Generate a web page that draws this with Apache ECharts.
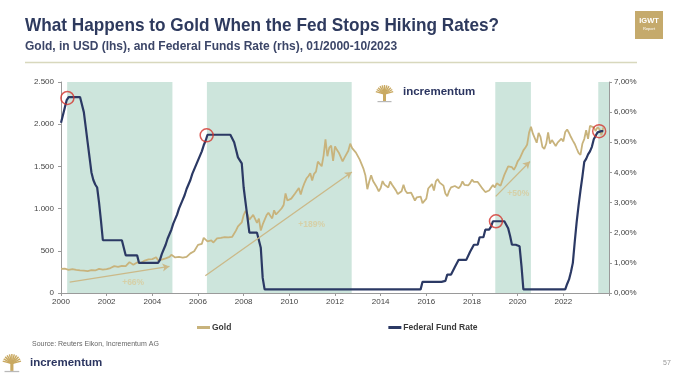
<!DOCTYPE html>
<html><head><meta charset="utf-8">
<script src="https://cdn.jsdelivr.net/npm/echarts@6/dist/echarts.min.js"></script>
<style>html,body{margin:0;padding:0;background:#fff}#c{width:679px;height:382px}</style>
</head><body><div id="c"></div>
<script>
// ---------- DATA ----------
const startYear = 2000;           // monthly data from 01/2000
const xTickYears = [2000,2002,2004,2006,2008,2010,2012,2014,2016,2018,2020,2022];
const goldTicks = [0,500,1000,1500,2000,2500];
const rateTicks = [0,1,2,3,4,5,6,7];
const seriesNames = ['Gold','Federal Fund Rate'];

const goldValues = [
 285,295,288,280,275,286,282,276,273,270,268,272,
 265,262,260,262,272,270,267,272,285,282,276,277,
 282,296,296,303,318,322,310,312,322,316,318,342,
 366,350,334,336,362,348,354,374,384,386,398,416,
 402,396,424,388,394,396,392,410,416,428,452,436,
 422,434,428,436,418,436,428,434,470,462,494,516,
 570,556,582,654,648,612,632,624,598,604,646,632,
 652,666,662,682,658,650,666,672,742,790,782,836,
 924,972,934,868,886,926,914,830,880,740,812,866,
 920,952,916,884,980,930,954,952,1004,1042,1180,1096,
 1082,1118,1114,1180,1212,1244,1168,1246,1306,1356,1384,1420,
 1332,1412,1438,1556,1536,1502,1628,1820,1620,1722,1746,1566,
 1738,1696,1662,1664,1560,1604,1614,1686,1770,1716,1712,1664,
 1660,1580,1598,1470,1392,1230,1322,1396,1326,1322,1252,1204,
 1244,1326,1284,1288,1250,1322,1282,1286,1216,1172,1182,1206,
 1282,1212,1184,1182,1190,1172,1096,1134,1114,1142,1064,1060,
 1118,1238,1232,1290,1214,1322,1350,1308,1316,1272,1178,1146,
 1210,1252,1248,1268,1268,1242,1270,1322,1282,1270,1274,1302,
 1342,1318,1324,1316,1298,1252,1224,1196,1190,1214,1222,1280,
 1250,1300,1290,1270,1290,1400,1420,1500,1500,1490,1460,1500,
 1560,1590,1580,1690,1720,1760,1900,1970,1888,1880,1780,1896,
 1850,1732,1708,1768,1904,1770,1812,1814,1742,1782,1776,1828,
 1796,1908,1938,1896,1848,1806,1766,1712,1660,1636,1768,1824,
 1928,1826,1980,1990,1962,1920,1966,1940,1870,1960
];

const fedValues = [
 5.65,5.9,6.15,6.4,6.5,6.5,6.5,6.5,6.5,6.5,6.5,6.5,
 6.0,5.5,5.0,4.5,4.0,3.75,3.6,3.5,3.0,2.4,1.75,1.75,
 1.75,1.75,1.75,1.75,1.75,1.75,1.75,1.75,1.75,1.75,1.25,1.25,
 1.25,1.25,1.25,1.25,1.25,1.0,1.0,1.0,1.0,1.0,1.0,1.0,
 1.0,1.0,1.0,1.0,1.1,1.3,1.45,1.6,1.8,1.95,2.1,2.3,
 2.45,2.6,2.8,2.95,3.1,3.25,3.45,3.6,3.75,3.95,4.1,4.25,
 4.4,4.55,4.7,4.9,5.05,5.25,5.25,5.25,5.25,5.25,5.25,5.25,
 5.25,5.25,5.25,5.25,5.25,5.25,5.25,5.0,4.75,4.5,4.45,4.3,
 3.5,3.0,2.5,2.0,2.0,2.0,2.0,2.0,2.0,1.5,0.5,0.12,
 0.12,0.12,0.12,0.12,0.12,0.12,0.12,0.12,0.12,0.12,0.12,0.12,
 0.12,0.12,0.12,0.12,0.12,0.12,0.12,0.12,0.12,0.12,0.12,0.12,
 0.12,0.12,0.12,0.12,0.12,0.12,0.12,0.12,0.12,0.12,0.12,0.12,
 0.12,0.12,0.12,0.12,0.12,0.12,0.12,0.12,0.12,0.12,0.12,0.12,
 0.12,0.12,0.12,0.12,0.12,0.12,0.12,0.12,0.12,0.12,0.12,0.12,
 0.12,0.12,0.12,0.12,0.12,0.12,0.12,0.12,0.12,0.12,0.12,0.12,
 0.12,0.12,0.12,0.12,0.12,0.12,0.12,0.12,0.12,0.12,0.37,0.37,
 0.37,0.37,0.37,0.37,0.37,0.37,0.37,0.37,0.37,0.37,0.4,0.61,
 0.61,0.61,0.61,0.86,0.86,1.1,1.1,1.1,1.1,1.1,1.1,1.37,
 1.37,1.6,1.6,1.6,1.85,1.85,1.85,2.1,2.1,2.1,2.2,2.38,
 2.38,2.38,2.38,2.38,2.38,2.38,2.38,2.15,1.9,1.6,1.6,1.6,
 1.6,1.55,0.9,0.12,0.12,0.12,0.12,0.12,0.12,0.12,0.12,0.12,
 0.12,0.12,0.12,0.12,0.12,0.12,0.12,0.12,0.12,0.12,0.12,0.12,
 0.12,0.12,0.3,0.45,0.7,1.0,1.7,2.35,2.9,3.4,3.85,4.35,
 4.45,4.6,4.7,4.85,5.1,5.15,5.33,5.37,5.37,5.37
];

// shaded periods (after last hike)
const shadeStarts = [2000.27, 2006.39, 2019.02, 2023.53];
const shadeEnds   = [2004.88, 2012.73, 2020.58, 2024.0];
// last-hike markers (year, rate %)
const hikeStopYears = [2000.28, 2006.38, 2019.05, 2023.57];
const hikeStopRates = [6.47, 5.23, 2.38, 5.37];
// gold trend arrows (year, gold) start -> end
const arrowStartYears = [2000.38, 2006.32, 2019.04];
const arrowStartGold  = [130, 205, 1145];
const arrowEndYears   = [2004.75, 2012.74, 2020.54];
const arrowEndGold    = [315, 1434, 1559];
const arrowLabels     = ['+66%', '+189%', '+50%'];
const arrowLabelYears = [2003.16, 2010.98, 2020.03];
const arrowLabelGold  = [126, 809, 1173];

// ---------- CHART ----------
const GOLD = '#c8b37c', NAVY = '#2b3964', SHADE = '#cde5dc';
const monthX = i => startYear + i / 12;
const goldData = goldValues.map((v, i) => [monthX(i), v]);
const fedData = fedValues.map((v, i) => [monthX(i), v]);

const fmtGold = v => v >= 1000 ? Math.floor(v / 1000) + '.' + String(v % 1000).padStart(3, '0') : String(v);
const fmtRate = v => v.toFixed(2).replace('.', ',') + '%';

function treeIcon(x, y, s) {
  const ch = [];
  const cx = 7.5 * s, cy = 11 * s;
  const angs = [195, 210, 225, 240, 255, 270, 285, 300, 315, 330, 345];
  angs.forEach(a => {
    const r = 9 * s, rad = a * Math.PI / 180;
    ch.push({type: 'line', shape: {x1: cx, y1: cy, x2: cx + r * Math.cos(rad), y2: cy + r * Math.sin(rad)},
      style: {stroke: '#c9a961', lineWidth: 1.4 * s}});
  });
  ch.push({type: 'rect', shape: {x: cx - 1.5 * s, y: cy - 1 * s, width: 3 * s, height: 8 * s}, style: {fill: '#c9a961'}});
  ch.push({type: 'rect', shape: {x: 0.5 * s, y: 18 * s, width: 14 * s, height: 1.2 * s}, style: {fill: '#b9b9b9'}});
  return {type: 'group', x: x, y: y, children: ch};
}

const chart = echarts.init(document.getElementById('c'), null, {renderer: 'canvas'});
const option = {
  backgroundColor: '#fff',
  animation: false,
  textStyle: {fontFamily: 'Liberation Sans, Arial, sans-serif'},
  grid: {left: 61, right: 70, top: 82, height: 211},
  legend: {
    left: 192, top: 318, itemWidth: 13, itemHeight: 3, itemGap: 157, icon: 'rect',
    textStyle: {fontSize: 8.5, fontWeight: 'bold', color: '#3a3a3a', padding: [0, 0, 0, -3]},
    data: seriesNames
  },
  xAxis: {
    type: 'value', min: 2000, max: 2024, interval: 2,
    axisLine: {show: true, lineStyle: {color: '#9a9a9a'}},
    axisTick: {show: true, length: 3, lineStyle: {color: '#9a9a9a'}},
    splitLine: {show: false},
    axisLabel: {fontSize: 8, color: '#444', margin: 5,
      formatter: v => xTickYears.indexOf(v) >= 0 ? String(v) : ''}
  },
  yAxis: [
    {type: 'value', min: goldTicks[0], max: goldTicks[goldTicks.length - 1], interval: 500,
     axisLine: {show: true, lineStyle: {color: '#9a9a9a'}},
     axisTick: {show: true, length: 3, lineStyle: {color: '#9a9a9a'}},
     splitLine: {show: false},
     axisLabel: {fontSize: 8, color: '#444', margin: 7, formatter: fmtGold}},
    {type: 'value', min: rateTicks[0], max: rateTicks[rateTicks.length - 1], interval: 1, position: 'right',
     axisLine: {show: true, lineStyle: {color: '#9a9a9a'}},
     axisTick: {show: true, length: 3, lineStyle: {color: '#9a9a9a'}},
     splitLine: {show: false},
     axisLabel: {fontSize: 8, color: '#444', margin: 5, formatter: fmtRate}}
  ],
  series: [
    {name: 'shade', type: 'line', data: [[2000, null]], z: 1, silent: true, symbol: 'none',
     markArea: {silent: true, itemStyle: {color: SHADE, opacity: 1},
       data: shadeStarts.map((s, i) => [{xAxis: s}, {xAxis: shadeEnds[i]}])}},
    {name: seriesNames[0], type: 'line', data: goldData, yAxisIndex: 0, z: 3, symbol: 'none',
     lineStyle: {color: GOLD, width: 1.8}, itemStyle: {color: GOLD}},
    {name: 'arrows', type: 'line', data: [[2000, null]], z: 3, symbol: 'none', yAxisIndex: 0, silent: true,
     markLine: {silent: true, symbol: ['none', 'arrow'], symbolSize: [6, 7],
       lineStyle: {color: '#cbb988', width: 1.3, type: 'solid'}, label: {show: false},
       data: arrowStartYears.map((s, i) => [{coord: [s, arrowStartGold[i]]}, {coord: [arrowEndYears[i], arrowEndGold[i]]}])}},
    {name: 'arrowLabels', type: 'scatter', yAxisIndex: 0, z: 3, symbolSize: 0, silent: true,
     data: arrowLabels.map((t, i) => ({name: t, value: [arrowLabelYears[i], arrowLabelGold[i]]})),
     label: {show: true, position: 'inside', formatter: p => p.name, color: '#d8ca9a', fontSize: 8.5, fontWeight: 'bold'}},
    {name: seriesNames[1], type: 'line', data: fedData, yAxisIndex: 1, z: 4, symbol: 'none',
     lineStyle: {color: NAVY, width: 2.2}, itemStyle: {color: NAVY}},
    {name: 'hikeStops', type: 'scatter', yAxisIndex: 1, z: 5, symbol: 'circle', symbolSize: 13, silent: true,
     data: hikeStopYears.map((y, i) => [y, hikeStopRates[i]]),
     itemStyle: {color: 'rgba(0,0,0,0)', borderColor: '#d3352d', borderWidth: 1.5}}
  ],
  graphic: [
    {type: 'text', x: 25, y: 16, scaleX: 0.93, style: {text: 'What Happens to Gold When the Fed Stops Hiking Rates?',
      font: 'bold 18.5px "Liberation Sans", Arial, sans-serif', fill: '#2e3a5e'}},
    {type: 'text', x: 25, y: 41, style: {text: 'Gold, in USD (lhs), and Federal Funds Rate (rhs), 01/2000-10/2023',
      font: 'bold 12px "Liberation Sans", Arial, sans-serif', fill: '#3c4668'}},
    {type: 'line', shape: {x1: 25, y1: 62.5, x2: 637, y2: 62.5}, style: {stroke: '#d8d8bd', lineWidth: 1.5}},
    {type: 'rect', shape: {x: 635, y: 11, width: 28, height: 28}, style: {fill: '#c5aa6c'}},
    {type: 'text', x: 649, y: 21, style: {text: 'IGWT', font: 'bold 7.5px "Liberation Sans", Arial', fill: '#fff', align: 'center', verticalAlign: 'middle'}},
    {type: 'text', x: 649, y: 29, style: {text: 'Report', font: '4px "Liberation Sans", Arial', fill: '#fff', align: 'center', verticalAlign: 'middle'}},
    treeIcon(377, 83, 1),
    {type: 'text', x: 403, y: 92, style: {text: 'incrementum', font: 'bold 11.5px "Liberation Sans", Arial', fill: '#2b3560', verticalAlign: 'middle'}},
    {type: 'text', x: 32, y: 344, style: {text: 'Source: Reuters Eikon, Incrementum AG', font: '7px "Liberation Sans", Arial', fill: '#666', verticalAlign: 'middle'}},
    treeIcon(4, 352, 1.05),
    {type: 'text', x: 30, y: 363, style: {text: 'incrementum', font: 'bold 11.5px "Liberation Sans", Arial', fill: '#2b3560', verticalAlign: 'middle'}},
    {type: 'text', x: 663, y: 363, style: {text: '57', font: '7px "Liberation Sans", Arial', fill: '#999', verticalAlign: 'middle'}}
  ]
};
chart.setOption(option);
</script>
</body></html>
